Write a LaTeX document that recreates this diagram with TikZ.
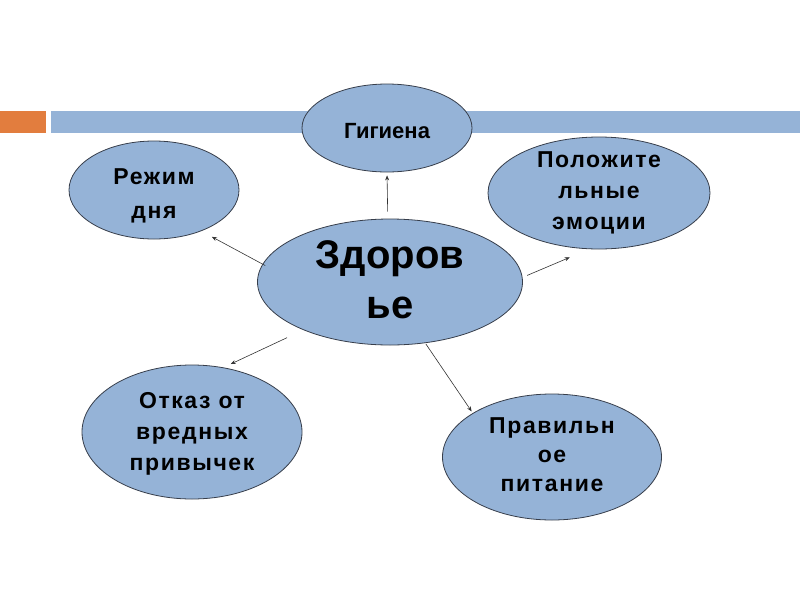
\documentclass[tikz,border=0pt]{standalone}
\usepackage{fontspec}
\setmainfont{Liberation Sans}
\usepackage{tikz}
\usetikzlibrary{arrows.meta, positioning, shapes.geometric}
\usepackage{xcolor}
\definecolor{bubbleblue}{RGB}{149, 179, 215}
\definecolor{bubbleedge}{RGB}{55, 62, 75}
\definecolor{baronge}{RGB}{226, 125, 62}
\definecolor{arrowgray}{RGB}{50, 50, 50}

\tikzset{
  bubble/.style={ellipse, draw=bubbleedge, line width=0.8pt, fill=bubbleblue, inner sep=0pt},
  bubbletext/.style={align=center, font=\bfseries\addfontfeature{LetterSpace=7}\fontsize{23}{31}\selectfont},
  link/.style={arrowgray, line width=0.6pt, -{Stealth[length=5pt, width=4pt]}}
}

\begin{document}
\begin{tikzpicture}[x=1pt, y=-1pt]
        \useasboundingbox (0,0) rectangle (800,600);
        % header bar
        \fill[baronge] (0,111) rectangle (46,133);
        \fill[bubbleblue] (51,111) rectangle (800,133);
        % ellipses
        \node[bubble, minimum width=170, minimum height=88] (gig) at (387,128) {};
        \node[bubble, minimum width=170, minimum height=98] (rezh) at (154,190) {};
        \node[bubble, minimum width=222, minimum height=112] (pol) at (599,193) {};
        \node[bubble, minimum width=265, minimum height=126] (zdor) at (390,282) {};
        \node[bubble, minimum width=220, minimum height=134] (otk) at (192,432) {};
        \node[bubble, minimum width=219, minimum height=126] (pit) at (552,457) {};
        % labels
        \node[font=\bfseries\fontsize{22}{26}\selectfont] (gig-t) at ([yshift=-3]gig) {Гигиена};
        \node[bubbletext, font=\bfseries\addfontfeature{LetterSpace=7}\fontsize{23}{34}\selectfont] (rezh-t) at ([yshift=-6]rezh) {Режим\\дня};
        \node[bubbletext] (pol-t) at (pol) {Положите\\льные\\эмоции};
        \node[align=center, font=\bfseries\fontsize{40}{50}\selectfont] (zdor-t) at ([yshift=2]zdor) {Здоров\\ье};
        \node[bubbletext] (otk-t) at ([yshift=-2]otk) {Отказ от\\вредных\\привычек};
        \node[bubbletext, font=\bfseries\addfontfeature{LetterSpace=7}\fontsize{23}{29}\selectfont] (pit-t) at ([yshift=2]pit) {Правильн\\ое\\питание};
        % arrows from the centre
        \draw[link, shorten <=7pt, shorten >=3pt] (zdor.92) -- (gig.-90);
        \draw[link, shorten <=-3pt, shorten >=12pt] (zdor.172) -- (rezh.-41);
        \draw[link, shorten <=5pt, shorten >=21pt] (zdor.2) -- (pol.260);
        \draw[link, shorten <=18pt, shorten >=8pt] (zdor.209) -- (otk.64);
        \draw[link, shorten <=1pt, shorten >=2pt] (zdor.-60) -- (pit.151);
      \end{tikzpicture}
\end{document}
